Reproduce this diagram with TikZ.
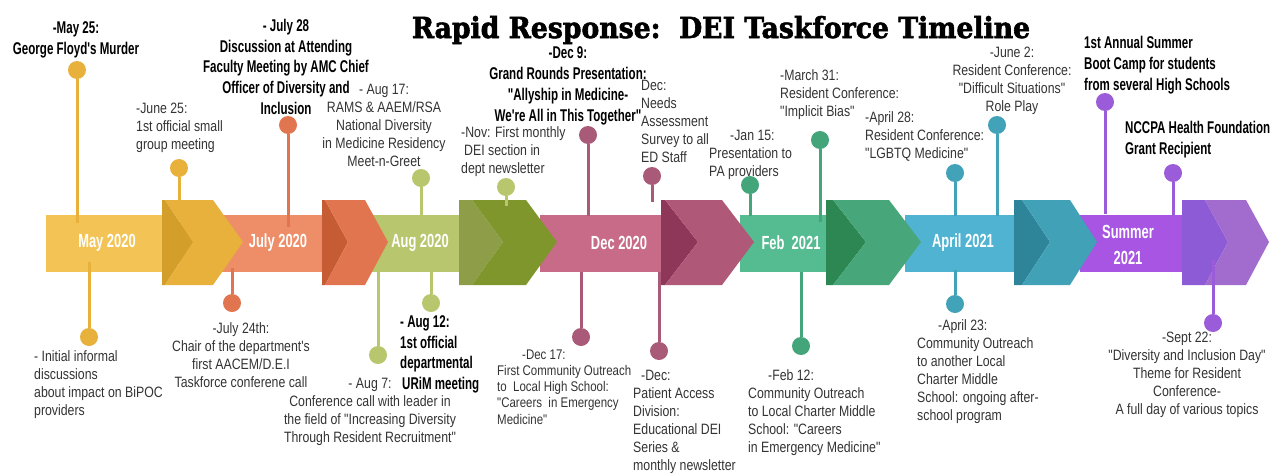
\documentclass[tikz,border=0pt]{standalone}
\usepackage{fontspec}
\newfontfamily\evfont[FakeStretch=0.82]{Liberation Sans}
\newfontfamily\evbold[FakeStretch=0.68]{Liberation Sans Bold}
\newfontfamily\titlefont[FakeStretch=0.92,FakeBold=2]{DejaVu Serif Bold}
\definecolor{evtext}{HTML}{333333}
\definecolor{yelband}{HTML}{F4C356}\definecolor{yelback}{HTML}{D49E2A}\definecolor{yelfront}{HTML}{E8B13C}\definecolor{yel}{HTML}{E8B13C}
\definecolor{orgband}{HTML}{EE8E68}\definecolor{orgback}{HTML}{C65C34}\definecolor{orgfront}{HTML}{E07550}\definecolor{org}{HTML}{E07550}
\definecolor{olvband}{HTML}{B8C76D}\definecolor{olvback}{HTML}{8E9E48}\definecolor{olvfront}{HTML}{7F962D}\definecolor{olv}{HTML}{B8C76D}
\definecolor{mauband}{HTML}{C86B88}\definecolor{mauback}{HTML}{8E3758}\definecolor{maufront}{HTML}{B05878}\definecolor{mau}{HTML}{A85A78}
\definecolor{grnband}{HTML}{55BC92}\definecolor{grnback}{HTML}{2D8752}\definecolor{grnfront}{HTML}{47A67A}\definecolor{grn}{HTML}{45A57A}
\definecolor{teaband}{HTML}{51B3D2}\definecolor{teaback}{HTML}{2E8499}\definecolor{teafront}{HTML}{41A1B7}\definecolor{tea}{HTML}{42A2B8}
\definecolor{purband}{HTML}{A755E2}\definecolor{purback}{HTML}{8E5BD6}\definecolor{purfront}{HTML}{A26BCE}\definecolor{pur}{HTML}{9A5CD8}
\newcommand\chev[7]{%
  \fill[#6] (#1,200) -- (#2,200) -- (#3,242) -- (#2,285) -- (#1,285) -- cycle;
  \fill[#7] (#2,200) -- (#4,200) -- (#5,242) -- (#4,285) -- (#2,285) -- (#3,242) -- cycle;}
\tikzset{
  evdot/.style={circle, fill=#1, minimum size=18pt, inner sep=0pt},
  evstem/.style={draw=#1, line width=3pt},
  ev/.style={font=\evfont\fontsize{15}{18}\selectfont, text=evtext, inner sep=0pt},
  evb/.style={font=\evbold\fontsize{17}{21}\selectfont, text=black, inner sep=0pt},
  month/.style={font=\evbold\fontsize{19}{26}\selectfont, text=white, align=center, inner sep=0pt}
}
\begin{document}
\begin{tikzpicture}[x=1pt, y=-1pt]
  \useasboundingbox (0,0) rectangle (1276,474);
  \fill[yelband] (46,215) rectangle (171,272);
  \fill[orgband] (180,215) rectangle (333,272);
  \fill[olvband] (360,215) rectangle (470,272);
  \fill[mauband] (540,215) rectangle (671,272);
  \fill[grnband] (740,215) rectangle (845,272);
  \fill[teaband] (905,215) rectangle (1031,272);
  \fill[purband] (1080,215) rectangle (1185,272);
  \chev{162}{165}{193}{213}{243}{yelback}{yelfront}
  \chev{322}{325}{348}{365}{388}{orgback}{orgfront}
  \chev{459}{472}{503}{526}{557}{olvback}{olvfront}
  \chev{661}{665}{698}{722}{754}{mauback}{maufront}
  \chev{826}{833}{866}{889}{921}{grnback}{grnfront}
  \chev{1014}{1022}{1050}{1070}{1097}{teaback}{teafront}
  \chev{1182}{1205}{1228}{1246}{1269}{purback}{purfront}
  \node[month] (may) at (107,243) {May 2020};
  \node[month] (jul) at (278,243) {July 2020};
  \node[month] (aug) at (420,243) {Aug 2020};
  \node[month] (dec) at (619,243) {Dec 2020};
  \node[month] (feb) at (791,243) {Feb\ \ 2021};
  \node[month] (apr) at (963,243) {April 2021};
  \node[month] (sum) at (1128,245) {Summer\\2021};
  \foreach \n/\x/\y/\e/\c in {may25/77/70/223/yel, jun25/179/168/202/yel,
      jul28/288/125/227/org, aug17/421/178/216/olv, nov/506/187/206/olv,
      dec9/588/135/216/mau, decneeds/652/176/202/mau, jan15/750/185/216/grn,
      mar31/820/140/222/grn, apr28/955/173/216/tea, jun2/997/125/216/tea,
      camp/1105/102/214/pur, nccpa/1173/173/216/pur,
      initial/89/337/262/yel, jul24/232/303/268/org, aug7/378/355/272/olv,
      aug12/431/303/272/olv, dec17/581/337/272/mau, decpat/659/351/272/mau,
      feb12/801/346/272/grn, apr23/955/304/270/tea, sep22/1213/323/260/pur}{
    \node[evdot=\c] (\n) at (\x,\y) {};
    \coordinate (\n s) at (\x,\e);
    \draw[evstem=\c] (\n) -- (\n s);
  }
  \node[font=\titlefont\fontsize{29}{34}\selectfont, anchor=base] (title) at (721,38)
    {Rapid Response:\ \ DEI Taskforce Timeline};
  \node[evb, align=center, anchor=north] (may25t) at (76,21.8)
    {-May 25:\\George Floyd's Murder};
  \node[ev, align=left, anchor=north west] (jun25t) at (136,102.5)
    {-June 25:\\1st official small\\group meeting};
  \node[evb, align=center, anchor=north, font=\evbold\fontsize{17}{20.7}\selectfont] (jul28t) at (286,18.8)
    {- July 28\\Discussion at Attending\\Faculty Meeting by AMC Chief\\Officer of Diversity and\\Inclusion};
  \node[ev, align=center, anchor=north] (aug17t) at (384,83.5)
    {- Aug 17:\\RAMS \& AAEM/RSA\\National Diversity\\in Medicine Residency\\Meet-n-Greet};
  \node[ev, align=left, anchor=north west] (novt) at (461,126.5)
    {-Nov: First monthly\\\hspace*{3pt}DEI section in\\dept newsletter};
  \node[evb, align=center, anchor=north] (dec9t) at (568,46.8)
    {-Dec 9:\\Grand Rounds Presentation:\\"Allyship in Medicine-\\We're All in This Together"};
  \node[ev, align=left, anchor=north west] (decneedst) at (641,79.5)
    {Dec:\\Needs\\Assessment\\Survey to all\\ED Staff};
  \node[ev, align=left, anchor=north west] (jan15t) at (709,129.5)
    {\hspace*{21pt}-Jan 15:\\Presentation to\\PA providers};
  \node[ev, align=left, anchor=north west] (mar31t) at (780,69.5)
    {-March 31:\\Resident Conference:\\"Implicit Bias"};
  \node[ev, align=left, anchor=north west] (apr28t) at (865,111.5)
    {-April 28:\\Resident Conference:\\"LGBTQ Medicine"};
  \node[ev, align=center, anchor=north] (jun2t) at (1012,46.5)
    {-June 2:\\Resident Conference:\\"Difficult Situations"\\Role Play};
  \node[evb, align=left, anchor=north west] (campt) at (1084,35.8)
    {1st Annual Summer\\Boot Camp for students\\from several High Schools};
  \node[evb, align=left, anchor=north west] (nccpat) at (1125,120.8)
    {NCCPA Health Foundation\\Grant Recipient};
  \node[ev, align=left, anchor=north west] (initialt) at (34,350.5)
    {- Initial informal\\discussions\\about impact on BiPOC\\providers};
  \node[ev, align=center, anchor=north] (jul24t) at (241,322.5)
    {-July 24th:\\Chair of the department's\\first AACEM/D.E.I\\Taskforce conferene call};
  \node[ev, align=center, anchor=north] (aug7t) at (370,377.5)
    {- Aug 7:\\Conference call with leader in\\the field of "Increasing Diversity\\Through Resident Recruitment"};
  \node[evb, align=left, anchor=north west, font=\evbold\fontsize{17}{20.5}\selectfont] (aug12t) at (400,315.8)
    {- Aug 12:\\1st official\\departmental\\\hspace*{2pt}URiM meeting};
  \node[ev, align=left, anchor=north west, font=\evfont\fontsize{14}{16.2}\selectfont] (dec17t) at (497,349.5)
    {\hspace*{25pt}-Dec 17:\\First Community Outreach\\to\ \ Local High School:\\"Careers\ \ in Emergency\\Medicine"};
  \node[ev, align=left, anchor=north west] (decpatt) at (633,369.5)
    {\hspace*{8pt}-Dec:\\Patient Access\\Division:\\Educational DEI\\Series \&\\monthly newsletter};
  \node[ev, align=left, anchor=north west] (feb12t) at (748,369.5)
    {\hspace*{20pt}-Feb 12:\\Community Outreach\\to Local Charter Middle\\School: "Careers\\in Emergency Medicine"};
  \node[ev, align=left, anchor=north west] (apr23t) at (917,319.5)
    {\hspace*{21pt}-April 23:\\Community Outreach\\to another Local\\Charter Middle\\School: ongoing after-\\school program};
  \node[ev, align=center, anchor=north] (sep22t) at (1187,331.5)
    {-Sept 22:\\"Diversity and Inclusion Day"\\Theme for Resident\\Conference-\\A full day of various topics};
\end{tikzpicture}
\end{document}
